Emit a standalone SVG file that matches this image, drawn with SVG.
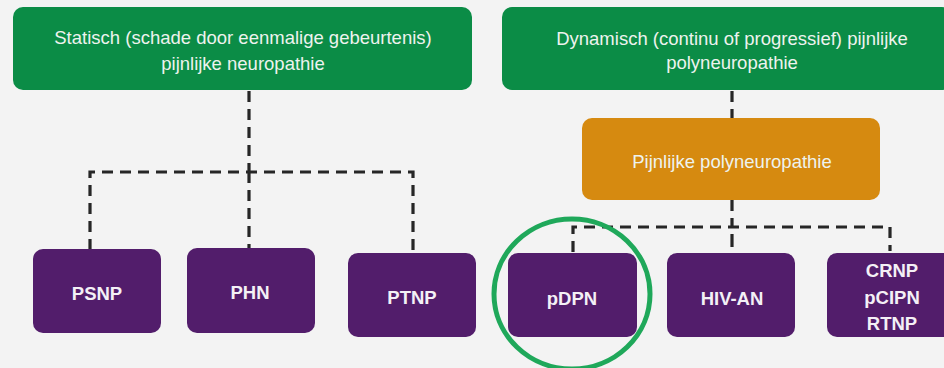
<svg xmlns="http://www.w3.org/2000/svg" width="944" height="368" viewBox="0 0 944 368">
<style>
.bg{fill:#f3f3f3}
.green{fill:#0b8c46}
.orange{fill:#d68a10}
.purple{fill:#521d6b}
.t{font-family:"Liberation Sans",Arial,sans-serif;font-size:18.5px;fill:#eef3ee;text-anchor:middle}
.b{font-family:"Liberation Sans",Arial,sans-serif;font-size:18.5px;font-weight:bold;fill:#f4f0f6;text-anchor:middle}
.dash{stroke:#262626;stroke-width:3.2;stroke-dasharray:11 7;fill:none}
.solid{stroke:#262626;stroke-width:3.2;fill:none}
</style>
<rect class="bg" x="0" y="0" width="944" height="368"/>
<g id="connectors">
<path class="dash" d="M249 91 V172"/>
<path class="dash" d="M90 250 V172 H413 V253"/>
<path class="dash" d="M249 172 V248"/>
<path class="dash" d="M732 91 V118"/>
<path class="dash" d="M732 200 V227"/>
<path class="dash" d="M573 252 V227 H890 V251"/>
<path class="solid" d="M732 234 V247"/>
</g>
<g id="static">
<rect class="green" x="13" y="7" width="459" height="83" rx="10"/>
<text class="t" x="243" y="44">Statisch (schade door eenmalige gebeurtenis)</text>
<text class="t" x="243" y="70">pijnlijke neuropathie</text>
</g>
<g id="dynamic">
<rect class="green" x="502" y="7" width="450" height="83" rx="10"/>
<text class="t" x="732" y="45">Dynamisch (continu of progressief) pijnlijke</text>
<text class="t" x="732" y="69">polyneuropathie</text>
</g>
<g id="pijnlijke">
<rect class="orange" x="582" y="118" width="298" height="82" rx="10"/>
<text class="t" x="732" y="168">Pijnlijke polyneuropathie</text>
</g>
<g id="psnp">
<rect class="purple" x="33" y="249" width="128" height="84" rx="10"/>
<text class="b" x="97" y="300">PSNP</text>
</g>
<g id="phn">
<rect class="purple" x="187" y="248" width="128" height="85" rx="10"/>
<text class="b" x="250" y="299">PHN</text>
</g>
<g id="ptnp">
<rect class="purple" x="348" y="253" width="128" height="84" rx="10"/>
<text class="b" x="412" y="304">PTNP</text>
</g>
<g id="pdpn">
<rect class="purple" x="508" y="253" width="129" height="84" rx="10"/>
<text class="b" x="572" y="305">pDPN</text>
</g>
<g id="hivan">
<rect class="purple" x="667" y="253" width="128" height="84" rx="10"/>
<text class="b" x="732" y="305">HIV-AN</text>
</g>
<g id="other">
<rect class="purple" x="827" y="253" width="130" height="84" rx="10"/>
<text class="b" x="892" y="277">CRNP</text>
<text class="b" x="892" y="304">pCIPN</text>
<text class="b" x="892" y="330">RTNP</text>
</g>
<g id="highlight">
<ellipse cx="572" cy="294" rx="78" ry="75" fill="none" stroke="#1fa85a" stroke-width="5"/>
</g>
</svg>
